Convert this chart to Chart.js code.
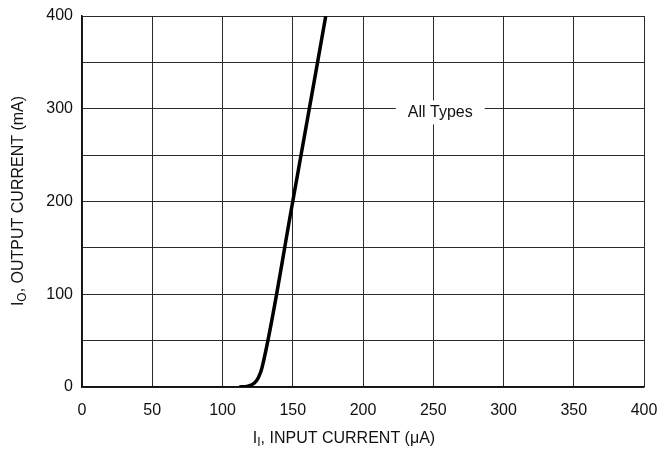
<!DOCTYPE html>
<html>
<head>
<meta charset="utf-8">
<script src="https://cdn.jsdelivr.net/npm/chart.js@4/dist/chart.umd.min.js"></script>
<style>
  body { margin: 0; background: #fff; }
  #wrap { width: 668px; height: 456px; }
</style>
</head>
<body>
<div id="wrap"><canvas id="myChart" width="668" height="456"></canvas></div>
<script>
// input current (uA) vs output current (mA)
var inputCurrent = [112, 118, 122.5, 125.5, 128, 150, 173.5];
var outputCurrent = [0, 1, 4, 10, 20, 200, 400];
var xTicks = [0, 50, 100, 150, 200, 250, 300, 350, 400];
var yTicks = [0, 100, 200, 300, 400];
var curveLabel = 'All Types';

var FONT = "'Liberation Sans Narrow', 'Arial Narrow', 'Liberation Sans', Arial, sans-serif";

// draws text with a subscript part, e.g. I + O
var subText = function(ctx, parts, x, y) {
  var total = 0;
  parts.forEach(function(p) {
    ctx.font = p.size + 'px ' + FONT;
    total += ctx.measureText(p.t).width;
  });
  var cx = x - total / 2;
  parts.forEach(function(p) {
    ctx.font = p.size + 'px ' + FONT;
    ctx.fillText(p.t, cx, y + (p.dy || 0));
    cx += ctx.measureText(p.t).width;
  });
};

var labels = {
  id: 'labels',
  afterDraw: function(chart) {
    var ctx = chart.ctx;
    var xs = chart.scales.x, ys = chart.scales.y;
    ctx.save();
    ctx.fillStyle = '#111';
    ctx.textAlign = 'left';
    ctx.textBaseline = 'middle';

    // curve label with white box behind it
    ctx.font = '16px ' + FONT;
    var lx = xs.getPixelForValue(255), ly = ys.getPixelForValue(296);
    var w = ctx.measureText(curveLabel).width;
    ctx.fillStyle = '#fff';
    ctx.fillRect(lx - w / 2 - 12, ly - 12, w + 24, 24);
    ctx.fillStyle = '#111';
    ctx.fillText(curveLabel, lx - w / 2, ly);

    // x axis title
    subText(ctx, [
      {t: 'I', size: 16},
      {t: 'I', size: 12, dy: 4},
      {t: ', INPUT CURRENT (\u03bcA)', size: 16}
    ], 344, 439);

    // y axis title
    ctx.translate(19, 201);
    ctx.rotate(-Math.PI / 2);
    subText(ctx, [
      {t: 'I', size: 16},
      {t: 'O', size: 12, dy: 4},
      {t: ', OUTPUT CURRENT (mA)', size: 16}
    ], 0, 0);
    ctx.restore();
  }
};

var chart = new Chart(document.getElementById('myChart'), {
  type: 'scatter',
  data: {
    datasets: [{
      data: inputCurrent.map(function(v, i) { return {x: v, y: outputCurrent[i]}; }),
      showLine: true,
      borderColor: '#000',
      borderWidth: 3.5,
      pointRadius: 0,
      cubicInterpolationMode: 'monotone',
      fill: false
    }]
  },
  plugins: [labels],
  options: {
    responsive: false,
    animation: false,
    layout: { padding: { top: 16, right: 24, left: 0, bottom: 0 } },
    plugins: { legend: { display: false }, tooltip: { enabled: false } },
    scales: {
      x: {
        type: 'linear',
        min: 0, max: 400,
        afterBuildTicks: function(axis) { axis.ticks = xTicks.map(function(v) { return {value: v}; }); },
        afterFit: function(axis) {
          axis.height = 69;
          axis.paddingRight = 0;
          axis.paddingLeft = 0;
        },
        grid: { color: '#2a2a2a', lineWidth: 1, drawTicks: false },
        border: { color: '#111', width: 1.5 },
        ticks: { color: '#111', padding: 14, font: { family: FONT, size: 16 } }
      },
      y: {
        type: 'linear',
        min: 0, max: 400,
        afterBuildTicks: function(axis) {
          var t = [];
          for (var v = 0; v <= 400; v += 50) t.push({value: v});
          axis.ticks = t;
        },
        afterFit: function(axis) {
          axis.width = 82;
          axis.paddingTop = 0;
          axis.paddingBottom = 0;
        },
        grid: { color: '#2a2a2a', lineWidth: 1, drawTicks: false },
        border: { color: '#111', width: 1.5 },
        ticks: {
          color: '#111', padding: 9, font: { family: FONT, size: 16 },
          callback: function(v) { return yTicks.indexOf(v) >= 0 ? v : ''; }
        }
      }
    }
  }
});
</script>
</body>
</html>
